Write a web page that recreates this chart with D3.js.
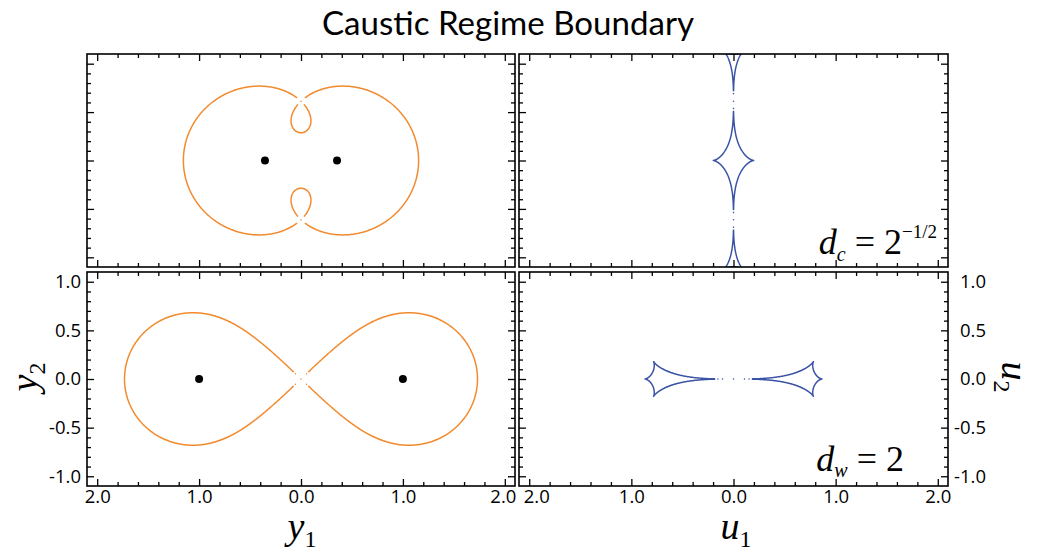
<!DOCTYPE html>
<html><head><meta charset="utf-8">
<script src="https://cdn.jsdelivr.net/npm/d3@7"></script>
<style>body{margin:0;background:#fff}</style>
</head><body>
<svg id="chart" width="1040" height="554" xmlns="http://www.w3.org/2000/svg"></svg>
<script>
// ---------------- data ----------------
const separations = [Math.SQRT1_2, 2];          // top row: d_c = 2^-1/2, bottom row: d_w = 2
const massFractions = [0.5, 0.5];               // equal-mass binary lens
const phiSamples = 360;                         // samples along the critical-curve parameter
const xTickValues = [-2, -1, 0, 1, 2];
const xTickLabels = ["2.0", "1.0", "0.0", "1.0", "2.0"];
const yTickValues = [1.0, 0.5, 0.0, -0.5, -1.0];
const yTickLabels = ["1.0", "0.5", "0.0", "-0.5", "-1.0"];
const xDomain = [-2.1, 2.1];
const yDomain = [-1.1, 1.1];
const titleText = "Caustic Regime Boundary";

// ---------------- layout ----------------
const svg = d3.select("#chart");
const colX = [[87, 515], [519, 948]];
const rowY = [[54, 267], [272, 486]];
const ORANGE = "#f28a2e", BLUE = "#3a54a5";
const sans = "'Open Sans', sans-serif";

// complex helpers
const C = (re, im) => ({re, im});
const add = (a, b) => C(a.re + b.re, a.im + b.im);
const sub = (a, b) => C(a.re - b.re, a.im - b.im);
const mul = (a, b) => C(a.re * b.re - a.im * b.im, a.re * b.im + a.im * b.re);
const div = (a, b) => { const d = b.re * b.re + b.im * b.im; return C((a.re * b.re + a.im * b.im) / d, (a.im * b.re - a.re * b.im) / d); };
const conj = a => C(a.re, -a.im);
const csqrt = a => { const r = Math.hypot(a.re, a.im); const re = Math.sqrt(Math.max(0, (r + a.re) / 2)); let im = Math.sqrt(Math.max(0, (r - a.re) / 2)); if (a.im < 0) im = -im; return C(re, im); };
const neg = a => C(-a.re, -a.im);

// critical curves & caustics of an equal-mass binary lens (masses at ±d/2)
function lensCurves(d) {
  const a = d / 2, a2 = a * a;
  const crit = [], caus = [];
  for (let k = 0; k < phiSamples; k++) {
    const phi = 2 * Math.PI * k / phiSamples;
    const c = C(Math.cos(phi), Math.sin(phi));
    // c w^2 - (2a^2 c + 1) w + (c a^4 - a^2) = 0,  w = z^2
    const B = add(mul(C(2 * a2, 0), c), C(1, 0));
    const s = csqrt(add(C(1, 0), mul(C(8 * a2, 0), c)));
    const two_c = mul(C(2, 0), c);
    const ws = [div(add(B, s), two_c), div(sub(B, s), two_c)];
    const zs = [];
    ws.forEach(w => { const r = csqrt(w); zs.push(r, neg(r)); });
    crit.push(zs);
    caus.push(zs.map(z => {
      const zb = conj(z);
      const t1 = div(C(massFractions[0], 0), sub(zb, C(a, 0)));
      const t2 = div(C(massFractions[1], 0), sub(zb, C(-a, 0)));
      return sub(z, add(t1, t2));
    }));
  }
  return {crit, caus};
}

function curvePath(samples, xs, ys, thr) {
  let p = "";
  const N = samples.length;
  for (let k = 0; k < N; k++) {
    const cur = samples[k], nxt = samples[(k + 1) % N];
    cur.forEach(z => {
      const x = xs(z.re), y = ys(z.im);
      p += `M${x.toFixed(2)},${y.toFixed(2)}l0.01,0`;
      let best = Infinity, bx = 0, by = 0;
      nxt.forEach(q => { const qx = xs(q.re), qy = ys(q.im); const dd = Math.hypot(qx - x, qy - y); if (dd < best) { best = dd; bx = qx; by = qy; } });
      if (best < thr) p += `M${x.toFixed(2)},${y.toFixed(2)}L${bx.toFixed(2)},${by.toFixed(2)}`;
    });
  }
  return p;
}

const defs = svg.append("defs");
let clipId = 0;

function panel(col, row) {
  const [x0, x1] = colX[col], [y0, y1] = rowY[row];
  const xs = d3.scaleLinear().domain(xDomain).range([x0, x1]);
  const ys = d3.scaleLinear().domain(yDomain).range([y1, y0]);
  const id = "clip" + (clipId++);
  defs.append("clipPath").attr("id", id).append("rect").attr("x", x0).attr("y", y0).attr("width", x1 - x0).attr("height", y1 - y0);
  const g = svg.append("g");
  const curves = lensCurves(separations[row]);
  const cg = g.append("g").attr("clip-path", `url(#${id})`);
  cg.append("path")
    .attr("d", curvePath(col === 0 ? curves.crit : curves.caus, xs, ys, 3))
    .attr("fill", "none").attr("stroke", col === 0 ? ORANGE : BLUE)
    .attr("stroke-width", 1.5).attr("stroke-linecap", "round");
  if (col === 0) {
    const a = separations[row] / 2;
    cg.selectAll("circle").data([-a, a]).join("circle")
      .attr("cx", d => xs(d)).attr("cy", ys(0)).attr("r", 4).attr("fill", "#000");
  }
  // ticks via d3 axes
  const xMinor = d3.range(-20, 21, 2).map(v => v / 10).filter(v => Math.abs(v - Math.round(v)) > 1e-9);
  const yMinor = d3.range(-10, 11).map(v => v / 10).filter(v => Math.abs(v * 2 - Math.round(v * 2)) > 1e-9);
  const yMajor = [-1, -0.5, 0, 0.5, 1];
  const axes = [
    [d3.axisBottom(xs), `translate(0,${y0})`, xTickValues, xMinor],
    [d3.axisTop(xs), `translate(0,${y1})`, xTickValues, xMinor],
    [d3.axisRight(ys), `translate(${x0},0)`, yMajor, yMinor],
    [d3.axisLeft(ys), `translate(${x1},0)`, yMajor, yMinor]
  ];
  axes.forEach(([ax, tr, maj, min]) => {
    g.append("g").attr("transform", tr).call(ax.tickValues(maj).tickSize(7).tickSizeOuter(0).tickFormat(""))
      .call(s => s.select(".domain").remove()).selectAll("line").attr("stroke", "#000").attr("stroke-width", 1.3);
    g.append("g").attr("transform", tr).call(ax.tickValues(min).tickSize(4).tickSizeOuter(0).tickFormat(""))
      .call(s => s.select(".domain").remove()).selectAll("line").attr("stroke", "#000").attr("stroke-width", 1.3);
  });
  g.append("rect").attr("x", x0).attr("y", y0).attr("width", x1 - x0).attr("height", y1 - y0)
    .attr("fill", "none").attr("stroke", "#000").attr("stroke-width", 1.6);
  // tick labels
  if (row === 1) {
    g.append("g").attr("transform", `translate(0,${y1})`)
      .call(d3.axisBottom(xs).tickValues(xTickValues).tickFormat((d, i) => xTickLabels[i]).tickSize(0).tickPadding(4))
      .call(s => s.select(".domain").remove())
      .selectAll("text").attr("font-family", sans).attr("font-size", 18.5).attr("fill", "#000")
      .attr("x", (d, i) => (col === 1 && i === 0) ? 7 : (col === 0 && i === 4 ? -2 : 0));
    if (col === 0) {
      g.append("g").attr("transform", `translate(${x0},0)`)
        .call(d3.axisLeft(ys).tickValues(yTickValues).tickFormat((d, i) => yTickLabels[i]).tickSize(0).tickPadding(6))
        .call(s => s.select(".domain").remove())
        .selectAll("text").attr("font-family", sans).attr("font-size", 18.5).attr("fill", "#000");
    } else {
      g.append("g").attr("transform", `translate(${x1},0)`)
        .call(d3.axisRight(ys).tickValues(yTickValues).tickFormat((d, i) => yTickLabels[i]).tickSize(0).tickPadding(38))
        .call(s => s.select(".domain").remove())
        .selectAll("text").attr("text-anchor", "end").attr("font-family", sans).attr("font-size", 18.5).attr("fill", "#000");
    }
  }
}

for (let r = 0; r < 2; r++) for (let c = 0; c < 2; c++) panel(c, r);

// title
svg.append("text").attr("x", 508).attr("y", 35).attr("text-anchor", "middle")
  .attr("font-family", "Lato, 'Open Sans', sans-serif").attr("font-size", 32)
  .attr("textLength", 372).attr("lengthAdjust", "spacingAndGlyphs").text(titleText);

const serif = "'Liberation Serif', 'DejaVu Serif', serif";
function subLabel(parent, main, subs) {
  parent.append("tspan").attr("font-style", "italic").text(main);
  parent.append("tspan").attr("font-size", 24).attr("dy", 8).text(subs);
}
// axis labels
subLabel(svg.append("text").attr("x", 302).attr("y", 539).attr("text-anchor", "middle").attr("font-family", serif).attr("font-size", 38), "y", "1");
subLabel(svg.append("text").attr("x", 736).attr("y", 539).attr("text-anchor", "middle").attr("font-family", serif).attr("font-size", 38), "u", "1");
subLabel(svg.append("text").attr("transform", "translate(37,377) rotate(-90)").attr("text-anchor", "middle").attr("font-family", serif).attr("font-size", 38), "y", "2");
subLabel(svg.append("text").attr("transform", "translate(1002,377) rotate(90)").attr("text-anchor", "middle").attr("font-family", serif).attr("font-size", 38), "u", "2");

// regime labels
const t1 = svg.append("text").attr("x", 937).attr("y", 254).attr("text-anchor", "end").attr("font-family", serif).attr("font-size", 36);
t1.append("tspan").attr("font-style", "italic").text("d");
t1.append("tspan").attr("font-style", "italic").attr("font-size", 20).attr("dy", 7).text("c");
t1.append("tspan").attr("dy", -7).text(" = 2");
t1.append("tspan").attr("font-size", 19).attr("dy", -16).text("\u22121/2");

const t2 = svg.append("text").attr("x", 904).attr("y", 471).attr("text-anchor", "end").attr("font-family", serif).attr("font-size", 36);
t2.append("tspan").attr("font-style", "italic").text("d");
t2.append("tspan").attr("font-style", "italic").attr("font-size", 20).attr("dy", 6).text("w");
t2.append("tspan").attr("dy", -6).text(" = 2");
</script>
</body></html>
